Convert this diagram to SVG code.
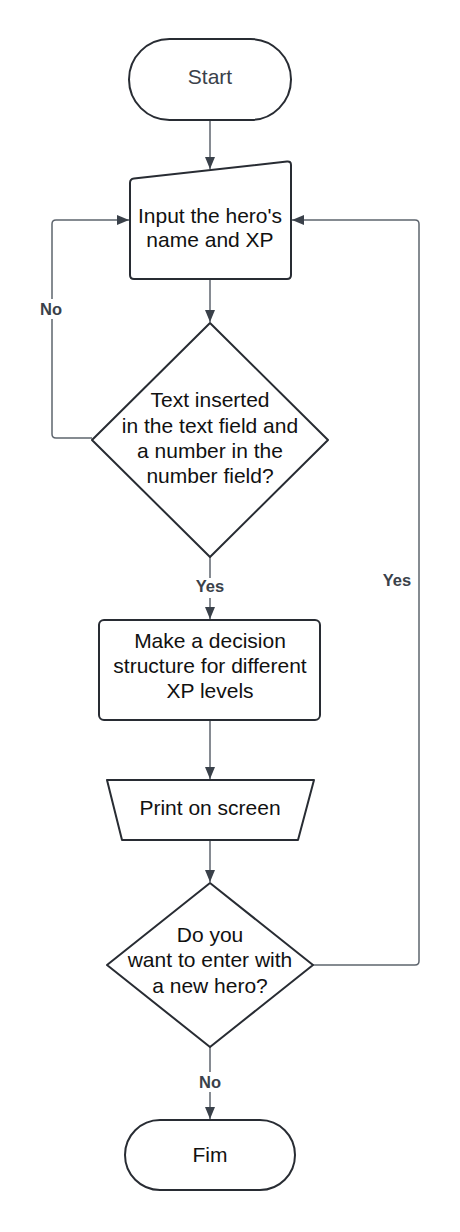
<svg xmlns="http://www.w3.org/2000/svg" width="460" height="1232" viewBox="0 0 460 1232">
<defs>
<marker id="arr" markerUnits="userSpaceOnUse" markerWidth="14" markerHeight="12" refX="12" refY="5" orient="auto">
<path d="M0,0 L12,5 L0,10 Z" fill="#3a414a"/>
</marker>
<style>
.shape{fill:#ffffff;stroke:#282c33;stroke-width:2;stroke-linejoin:round}
.conn{fill:none;stroke:#5e656e;stroke-width:1.5}
.t{font-family:"Liberation Sans",Arial,sans-serif;font-size:21px;fill:#111;text-anchor:middle}
.lbl{font-family:"Liberation Sans",Arial,sans-serif;font-size:16.5px;font-weight:bold;fill:#3a414a;text-anchor:middle}
</style>
</defs>
<rect width="460" height="1232" fill="#ffffff"/>
<g id="connectors">
<path class="conn" d="M210,120 L210,169" marker-end="url(#arr)"/>
<path class="conn" d="M210,279 L210,322" marker-end="url(#arr)"/>
<path class="conn" d="M92,438 L56,438 Q52,438 52,434 L52,224 Q52,220 56,220 L129,220" marker-end="url(#arr)"/>
<path class="conn" d="M210,557 L210,619" marker-end="url(#arr)"/>
<path class="conn" d="M210,720 L210,779" marker-end="url(#arr)"/>
<path class="conn" d="M210,840 L210,882" marker-end="url(#arr)"/>
<path class="conn" d="M313,965 L415,965 Q419,965 419,961 L419,224 Q419,220 415,220 L292,220" marker-end="url(#arr)"/>
<path class="conn" d="M210,1047 L210,1119" marker-end="url(#arr)"/>
<rect x="38" y="299" width="28" height="20" fill="#ffffff"/>
<text class="lbl" x="51" y="315">No</text>
<rect x="193" y="578" width="34" height="20" fill="#ffffff"/>
<text class="lbl" x="210" y="592">Yes</text>
<text class="lbl" x="397" y="586">Yes</text>
<rect x="196" y="1072" width="28" height="20" fill="#ffffff"/>
<text class="lbl" x="210" y="1088">No</text>
</g>
<g id="start">
<rect class="shape" x="129" y="39" width="162" height="81" rx="40.5"/>
<text class="t" x="210" y="84" style="fill:#3a414a">Start</text>
</g>
<g id="input">
<path class="shape" d="M134,178.5 L287,161.5 Q291,161 291,165 L291,275 Q291,279 287,279 L134,279 Q130,279 130,275 L130,183 Q130,179 134,178.5 Z"/>
<text class="t" x="210" y="223">Input the hero's</text>
<text class="t" x="210" y="247">name and XP</text>
</g>
<g id="decision1">
<path class="shape" d="M210,323 L328,440 L210,557 L92,440 Z"/>
<text class="t" x="210" y="407">Text inserted</text>
<text class="t" x="210" y="432.5">in the text field and</text>
<text class="t" x="210" y="458">a number in the</text>
<text class="t" x="210" y="483">number field?</text>
</g>
<g id="process">
<rect class="shape" x="99" y="620" width="221" height="100" rx="5"/>
<text class="t" x="210" y="648">Make a decision</text>
<text class="t" x="210" y="673">structure for different</text>
<text class="t" x="210" y="698">XP levels</text>
</g>
<g id="print">
<path class="shape" d="M107,780 L314,780 L298,840 L122,840 Z"/>
<text class="t" x="210" y="815">Print on screen</text>
</g>
<g id="decision2">
<path class="shape" d="M210,883 L313,965 L210,1047 L107,965 Z"/>
<text class="t" x="210" y="942">Do you</text>
<text class="t" x="210" y="967">want to enter with</text>
<text class="t" x="210" y="992.5">a new hero?</text>
</g>
<g id="end">
<rect class="shape" x="125" y="1120" width="170" height="70" rx="35"/>
<text class="t" x="210" y="1162">Fim</text>
</g>
</svg>
